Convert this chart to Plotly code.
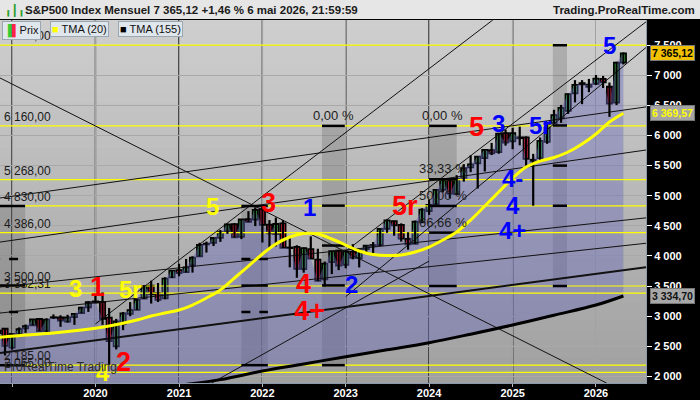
import pandas as pd
import plotly.graph_objects as go

# ---- monthly candles, Nov 2018 .. May 2026 ----
months = pd.date_range("2018-11-01", "2026-05-01", freq="MS")

opens = [2718, 2790, 2476, 2702, 2798, 2848, 2952, 2751, 2971, 2980, 2910, 2983, 3050, 3144,
         3244, 3235, 2974, 2499, 2869, 3038, 3105, 3289, 3508, 3385, 3296, 3645,
         3764, 3732, 3842, 3992, 4191, 4217, 4300, 4406, 4528, 4317, 4610, 4602,
         4778, 4519, 4363, 4540, 4130, 4150, 3781, 4112, 3937, 3610, 3898, 4087,
         3853, 4070, 3964, 4113, 4166, 4181, 4451, 4578, 4515, 4284, 4201, 4559,
         4745, 4862, 5098, 5257, 5029, 5298, 5471, 5537, 5623, 5757, 5724, 6040,
         5903, 5969, 5968, 5597, 5626, 5896, 6204, 6287, 6409, 6700, 6870, 6810,
         6860, 6940, 6810, 6545, 7210]
highs = [2815, 2800, 2708, 2813, 2861, 2949, 2954, 2964, 3028, 3014, 3022, 3050, 3154, 3248,
         3338, 3394, 3136, 2954, 3068, 3233, 3280, 3515, 3588, 3550, 3646, 3760,
         3870, 3950, 3994, 4218, 4238, 4302, 4430, 4537, 4546, 4608, 4744, 4808,
         4819, 4596, 4637, 4594, 4308, 4178, 4140, 4325, 4119, 3906, 4080, 4101,
         4095, 4195, 4110, 4170, 4231, 4458, 4607, 4584, 4541, 4393, 4587, 4793,
         4931, 5111, 5265, 5264, 5341, 5524, 5670, 5651, 5768, 5878, 6044, 6100,
         6128, 6147, 5986, 5695, 5968, 6215, 6427, 6508, 6699, 6920, 6920, 6940,
         7005, 6990, 6880, 7226, 7380]
lows = [2632, 2347, 2443, 2681, 2722, 2848, 2751, 2729, 2953, 2822, 2892, 2855, 3050, 3070,
        3215, 2855, 2192, 2447, 2767, 2999, 3101, 3284, 3209, 3234, 3280, 3633,
        3662, 3725, 3723, 3992, 4056, 4164, 4233, 4367, 4306, 4279, 4560, 4495,
        4223, 4115, 4157, 4132, 3811, 3637, 3722, 3955, 3584, 3492, 3698, 3764,
        3795, 3943, 3809, 4049, 4048, 4166, 4385, 4335, 4238, 4104, 4197, 4546,
        4682, 4853, 5056, 4954, 5012, 5234, 5391, 5120, 5403, 5675, 5697, 5832,
        5773, 5837, 5489, 4835, 5578, 5862, 6201, 6212, 6360, 6550, 6521, 6720,
        6840, 6790, 6310, 6505, 7180]
closes = [2760, 2507, 2704, 2784, 2834, 2946, 2752, 2942, 2980, 2926, 2977, 3038, 3141, 3231,
          3226, 2954, 2585, 2912, 3044, 3100, 3271, 3500, 3363, 3270, 3622, 3756,
          3714, 3811, 3973, 4181, 4204, 4298, 4395, 4523, 4308, 4605, 4567, 4766,
          4516, 4374, 4530, 4132, 4132, 3785, 4130, 3955, 3586, 3872, 4080, 3840,
          4077, 3970, 4109, 4169, 4180, 4450, 4589, 4508, 4288, 4194, 4568, 4770,
          4846, 5096, 5254, 5036, 5278, 5460, 5522, 5648, 5762, 5705, 6032, 5882,
          6041, 5955, 5612, 5569, 5912, 6205, 6339, 6460, 6688, 6840, 6849, 6845,
          6945, 6885, 6530, 7210, 7365.12]

# ---- indicators ----
tma20_dates = ["2018-11-01", "2019-03-01", "2019-07-01", "2019-11-01", "2020-03-01", "2020-07-01",
               "2020-09-01", "2020-11-01", "2021-01-01", "2021-03-01", "2021-05-01", "2021-07-01",
               "2021-09-01", "2021-11-01", "2022-01-01", "2022-03-01", "2022-05-01", "2022-07-01",
               "2022-09-01", "2022-11-01", "2023-01-01", "2023-03-01", "2023-05-01", "2023-07-01",
               "2023-09-01", "2023-11-01", "2024-01-01", "2024-03-01", "2024-05-01", "2024-07-01",
               "2024-09-01", "2024-11-01", "2025-01-01", "2025-03-01", "2025-05-01", "2025-07-01",
               "2025-09-01", "2025-11-01", "2026-01-01", "2026-03-01", "2026-05-01"]
tma20 = [2645, 2686, 2719, 2769, 2836, 2935, 3002, 3052, 3101, 3184, 3301, 3434, 3633, 3832,
         4032, 4198, 4314, 4372, 4364, 4281, 4181, 4081, 4023, 4007, 4015, 4065, 4148, 4264,
         4397, 4596, 4829, 5061, 5294, 5477, 5576, 5635, 5726, 5859, 6025, 6224, 6369.57]

tma155_dates = ["2018-11-01", "2019-07-01", "2020-01-01", "2020-07-01", "2021-01-01", "2021-07-01",
                "2022-01-01", "2022-07-01", "2023-01-01", "2023-07-01", "2024-01-01", "2024-07-01",
                "2025-01-01", "2025-07-01", "2026-01-01", "2026-05-01"]
tma155 = [1450, 1560, 1650, 1750, 1850, 1945, 2088, 2205, 2326, 2440, 2558, 2700, 2852, 3015,
          3184, 3334.70]

# ---- horizontal levels ----
levels = [7500, 6160, 5268, 4830, 4386, 3500, 3382.31, 2185, 2065]
level_labels = ["7 500,00", "6 160,00", "5 268,00", "4 830,00", "4 386,00", "3 500,00",
                "3 382,31", "2 185,00", "2 065,00"]

# ---- trend lines (start date, start price, end date, end price) ----
trend_x0 = ["2018-11-09", "2018-11-09", "2018-11-09", "2018-11-09", "2018-11-09", "2018-11-09",
            "2020-01-01", "2023-01-01", "2023-01-01", "2021-05-24"]
trend_y0 = [6956, 2387, 4962, 4230, 3051, 3483, 2870, 4080, 3322, 1889]
trend_x1 = ["2026-02-16", "2026-08-08", "2026-08-08", "2026-08-08", "2026-08-08", "2026-08-08",
            "2024-10-06", "2026-08-08", "2026-08-08", "2024-01-01"]
trend_y1 = [1889, 3814, 6475, 5759, 4210, 4632, 7919, 7888, 7462, 3914]
trend_w = [1, 2, 1, 1, 1, 1, 1, 1, 1, 1]

# ---- fibonacci boxes ----
fib_start = ["2018-10-01", "2021-10-01", "2022-09-19", "2024-01-01", "2025-06-26"]
fib_end = ["2019-02-27", "2022-01-25", "2022-12-28", "2024-05-01", "2025-08-27"]
fib_top = [4830, 4830, 6160, 6160, 7500]
fib_bottom = [2185, 2185, 2185, 3500, 3500]
fib_ratios = [0, 1 / 3, 0.5, 2 / 3, 1]
fib_ratio_text = ["0,00 %", "33,33 %", "50,00 %", "66,66 %", ""]
fib_labelled = [0, 0, 1, 4, 0]   # how many ratio labels each box shows
fib_dashed = [True, True, False, False, False]

# ---- wave labels ----
wave_text = ["3", "1", "5r", "4", "2", "5", "3", "1", "4", "4+", "2", "5r", "5", "3", "5r",
             "4-", "4", "4+", "5"]
wave_x = ["2019-10-04", "2020-01-08", "2020-06-01", "2020-02-04", "2020-05-01", "2021-05-28",
          "2022-01-26", "2022-07-28", "2022-06-28", "2022-07-28", "2023-01-28", "2023-09-18",
          "2024-07-28", "2024-11-01", "2025-05-01", "2025-01-01", "2025-01-01", "2025-01-01",
          "2026-03-02"]
wave_y = [3467, 3480, 3450, 2071, 2237, 4829, 4879, 4812, 3533, 3085, 3533, 4829, 6141, 6208,
          6174, 5294, 4845, 4430, 7503]
wave_color = ["#ffff00", "#ff0000", "#ffff00", "#ffff00", "#ff0000", "#ffff00", "#ff0000",
              "#0000ff", "#ff0000", "#ff0000", "#0000ff", "#ff0000", "#ff0000", "#0000ff",
              "#0000ff", "#0000ff", "#0000ff", "#0000ff", "#0000ff"]

year_ticks = ["2019-01-01", "2020-01-01", "2021-01-01", "2022-01-01", "2023-01-01",
              "2024-01-01", "2025-01-01", "2026-01-01"]
year_text = ["", "2020", "2021", "2022", "2023", "2024", "2025", "2026"]
year_lines = year_ticks[:-1]
price_ticks = [2000, 2500, 3000, 3500, 4000, 4500, 5000, 5500, 6000, 6500, 7000, 7500]

FONT = "Liberation Sans, Arial, sans-serif"
DAY = 86400000

fig = go.Figure()

# lavender area between close and TMA(155)
fig.add_trace(go.Scatter(x=tma155_dates, y=tma155, mode="lines", line=dict(width=0),
                         hoverinfo="skip"))
fig.add_trace(go.Scatter(x=months, y=closes, mode="lines", line=dict(width=0),
                         fill="tonexty", fillcolor="rgba(105,105,185,0.42)", hoverinfo="skip"))

# horizontal levels
for lv in levels:
    fig.add_trace(go.Scatter(x=["2018-11-09", "2026-08-08"], y=[lv, lv], mode="lines",
                             line=dict(color="#ffff00", width=1.2), hoverinfo="skip"))

# trend lines
for x0, y0, x1, y1, w in zip(trend_x0, trend_y0, trend_x1, trend_y1, trend_w):
    fig.add_trace(go.Scatter(x=[x0, x1], y=[y0, y1], mode="lines",
                             line=dict(color="#111111", width=w), hoverinfo="skip"))

# fibonacci levels
shapes = []
annotations = []
for i in range(len(fib_start)):
    shapes.append(dict(type="rect", xref="x", yref="y", x0=fib_start[i], x1=fib_end[i],
                       y0=fib_bottom[i], y1=fib_top[i], fillcolor="rgba(60,60,60,0.2)",
                       line_width=0, layer="between"))
    mid = pd.Timestamp(fib_start[i]) + (pd.Timestamp(fib_end[i]) - pd.Timestamp(fib_start[i])) / 2
    for k, r in enumerate(fib_ratios):
        lv = fib_top[i] - r * (fib_top[i] - fib_bottom[i])
        dash = "dash" if (fib_dashed[i] and k in (1, 3)) else "solid"
        fig.add_trace(go.Scatter(x=[fib_start[i], fib_end[i]], y=[lv, lv], mode="lines",
                                 line=dict(color="#000000", width=2.5, dash=dash),
                                 hoverinfo="skip"))
        if k < fib_labelled[i]:
            annotations.append(dict(x=mid, y=lv, xref="x", yref="y", text=fib_ratio_text[k],
                                    showarrow=False, yanchor="bottom", yshift=1,
                                    font=dict(family=FONT, size=13, color="#1e1e1e")))

# candles: wicks then bodies
wx, wy = [], []
for d, lo, hi in zip(months, lows, highs):
    wx += [d, d, None]
    wy += [lo, hi, None]
fig.add_trace(go.Scatter(x=wx, y=wy, mode="lines", line=dict(color="#000000", width=2.2),
                         hoverinfo="skip"))
base = [min(o, c) for o, c in zip(opens, closes)]
height = [max(abs(c - o), 10) for o, c in zip(opens, closes)]
colors = ["#44d444" if c >= o else "#f0284a" for o, c in zip(opens, closes)]
fig.add_trace(go.Bar(x=months, y=height, base=base, width=23 * DAY,
                     marker=dict(color=colors, line=dict(color="#000000", width=1.8)),
                     hoverinfo="skip"))

# moving averages
fig.add_trace(go.Scatter(x=tma155_dates, y=tma155, mode="lines", line_shape="spline",
                         line=dict(color="#000000", width=3), hoverinfo="skip"))
fig.add_trace(go.Scatter(x=tma20_dates, y=tma20, mode="lines", line_shape="spline",
                         line=dict(color="#ffff00", width=3), hoverinfo="skip"))

# background gradient
n = 40
c_top, c_bot = (206, 206, 206), (160, 160, 160)
for i in range(n):
    f = i / (n - 1)
    c = tuple(round(c_top[k] + (c_bot[k] - c_top[k]) * f) for k in range(3))
    shapes.insert(0, dict(type="rect", xref="paper", yref="paper", x0=0, x1=1,
                          y0=1 - (i + 1) / n - 0.003, y1=1 - i / n,
                          fillcolor="rgb(%d,%d,%d)" % c, line_width=0, layer="below"))

for d in year_lines:
    shapes.append(dict(type="line", xref="x", yref="paper", x0=d, x1=d, y0=0, y1=1,
                       line=dict(color="#000000", width=1.3), layer="between"))

# title bar
shapes.append(dict(type="rect", xref="paper", yref="paper", x0=-0.01, x1=1.1, y0=1.003,
                   y1=1.07, fillcolor="#e6e6e6", line_width=0, layer="above"))

# left level labels
for lv, t in zip(levels, level_labels):
    annotations.append(dict(x=0.003, y=lv, xref="paper", yref="y", text=t, showarrow=False,
                            xanchor="left", yanchor="bottom", yshift=0,
                            font=dict(family=FONT, size=12, color="#1a1a1a")))

# wave labels
for t, x, y, col in zip(wave_text, wave_x, wave_y, wave_color):
    size = 27 if col == "#ff0000" else 24
    annotations.append(dict(x=x, y=y, xref="x", yref="y", text="<b>%s</b>" % t,
                            showarrow=False, font=dict(family=FONT, size=size, color=col)))

# right price tags
tags = [(closes[-1], "7 365,12", "#f2c200", "#000000"),
        (tma20[-1], "6 369,57", "#a4a4a4", "#ffff00"),
        (tma155[-1], "3 334,70", "#a8a8a8", "#111111")]
for y, t, bg, fc in tags:
    annotations.append(dict(x=1.006, y=y, xref="paper", yref="y", text="<b>%s</b>" % t,
                            showarrow=False, xanchor="left", yanchor="middle", bgcolor=bg,
                            bordercolor="#777777", borderwidth=1, borderpad=1,
                            font=dict(family=FONT, size=10.5, color=fc)))

# title and branding
annotations.append(dict(x=0.036, y=1.028, xref="paper", yref="paper", xanchor="left",
                        yanchor="middle", showarrow=False,
                        text="<b>S&P500 Index Mensuel 7 365,12 +1,46 % 6 mai 2026, 21:59:59</b>",
                        font=dict(family=FONT, size=11.5, color="#1a1a1a")))
annotations.append(dict(x=1.079, y=1.028, xref="paper", yref="paper", xanchor="right",
                        yanchor="middle", showarrow=False, text="<b>Trading.ProRealTime.com</b>",
                        font=dict(family=FONT, size=11.5, color="#1a1a1a")))
annotations.append(dict(x=0.004, y=1.028, xref="paper", yref="paper", xanchor="left",
                        yanchor="middle", showarrow=False,
                        text="<span style='color:#2ca02c'>╻┃╻</span>",
                        font=dict(family="DejaVu Sans", size=11)))

# legend boxes
legend_items = [(0.003, "<span style='color:#33cc33'>▐</span><span style='color:#ff2244'>▌</span>Prix"),
                (0.077, "<span style='color:#ffff00'>■</span> TMA (20)"),
                (0.182, "<span style='color:#000000'>■</span> TMA (155)")]
for x, t in legend_items:
    annotations.append(dict(x=x, y=0.997, xref="paper", yref="paper", xanchor="left",
                            yanchor="top", showarrow=False, text=t, bgcolor="#dfe6ec",
                            bordercolor="#9aa6b0", borderwidth=1, borderpad=1,
                            font=dict(family=FONT, size=11, color="#111111")))

annotations.append(dict(x=0.003, y=2000, xref="paper", yref="y", xanchor="left",
                        yanchor="bottom", showarrow=False, text="ProRealTime Trading",
                        font=dict(family=FONT, size=12, color="#2a2a2a")))

fig.update_layout(
    width=700, height=400,
    margin=dict(l=0, r=54, t=20, b=17),
    paper_bgcolor="#000000", plot_bgcolor="#c4c4c4",
    showlegend=False, barmode="overlay",
    shapes=shapes, annotations=annotations,
    xaxis=dict(type="date", range=["2018-11-09", "2026-08-08"], tickvals=year_ticks,
               ticktext=["<b>%s</b>" % t if t else "" for t in year_text],
               showgrid=True, gridcolor="#a2a2a2", gridwidth=1, zeroline=False,
               ticks="outside", ticklen=3, tickcolor="#bbbbbb", ticklabelstandoff=-3,
               tickfont=dict(family=FONT, size=11, color="#ffffff"),
               showline=True, linecolor="#8a9aaa", fixedrange=True),
    yaxis=dict(side="right", range=[1889, 7919], tickvals=price_ticks,
               ticktext=["<b>%d %03d</b>" % (v // 1000, v % 1000) for v in price_ticks],
               showgrid=True, gridcolor="#a9a9a9", gridwidth=1, zeroline=False,
               ticks="outside", ticklen=5, tickcolor="#ffffff",
               tickfont=dict(family=FONT, size=11, color="#ffffff"),
               showline=True, linecolor="#8a9aaa", fixedrange=True),
)

fig.write_html("out.html", config={"displayModeBar": False},
               post_script="document.body.style.margin='0';document.body.style.background='#000';")
